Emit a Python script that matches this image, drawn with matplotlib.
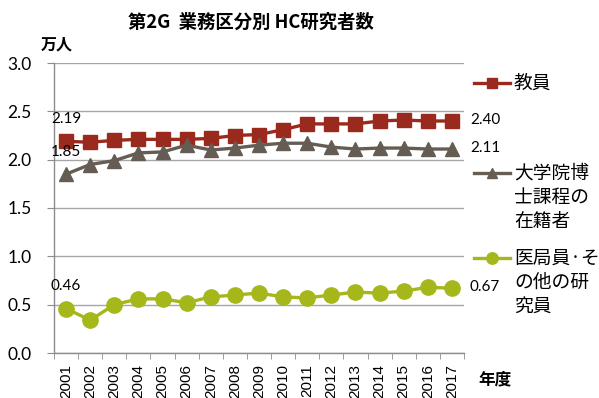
import matplotlib
matplotlib.use("Agg")
import matplotlib.pyplot as plt
from matplotlib.lines import Line2D

# ---- data -------------------------------------------------------------
years = [str(y) for y in range(2001, 2018)]
faculty = [2.19, 2.18, 2.20, 2.21, 2.21, 2.21, 2.22, 2.25, 2.26, 2.31,
           2.37, 2.37, 2.37, 2.40, 2.41, 2.40, 2.40]
doctoral = [1.85, 1.95, 1.99, 2.07, 2.08, 2.15, 2.10, 2.12, 2.15, 2.17,
            2.17, 2.13, 2.11, 2.12, 2.12, 2.11, 2.11]
medical = [0.46, 0.34, 0.50, 0.56, 0.56, 0.52, 0.58, 0.60, 0.62, 0.58,
           0.57, 0.60, 0.63, 0.62, 0.64, 0.68, 0.67]

series_labels = [["教員"],
                 ["大学院博", "士課程の", "在籍者"],
                 ["医局員·そ", "の他の研", "究員"]]
title = "第2G  業務区分別 HC研究者数"
y_unit = "万人"
x_unit = "年度"
y_ticks = [0.0, 0.5, 1.0, 1.5, 2.0, 2.5, 3.0]

# ---- style ------------------------------------------------------------
RED = "#9A2A1E"
GRAY = "#655D53"
GREEN = "#A5B71A"
GRID = "#A6A6A6"
CJK = ["Noto Sans CJK JP", "DejaVu Sans"]
NUM = "Lato"

W, H = 599, 398
fig = plt.figure(figsize=(W / 100, H / 100), dpi=100)


def fx(px):
    return px / W


def fy(py):
    return (H - py) / H


ax = fig.add_axes([fx(54), fy(353), fx(464) - fx(54), fy(63) - fy(353)])

x = list(range(len(years)))
styles = [
    (faculty, RED, "s", 10),
    (doctoral, GRAY, "^", 10),
    (medical, GREEN, "o", 11),
]
for vals, col, mk, ms in styles:
    ax.plot(x, vals, color=col, lw=2.4, marker=mk, ms=ms,
            markeredgecolor=col, markerfacecolor=col, zorder=3,
            clip_on=False)

ax.set_xlim(-0.5, len(years) - 0.5)
ax.set_ylim(0, 3.0)

# grid & spines
ax.set_yticks(y_ticks)
ax.set_yticklabels([f"{v:.1f}" for v in y_ticks], fontfamily=NUM, fontsize=12.5)
ax.yaxis.grid(True, color=GRID, lw=1.0)
ax.set_axisbelow(True)
for side in ("top", "right"):
    ax.spines[side].set_visible(False)
for side in ("left", "bottom"):
    ax.spines[side].set_color("#8C8C8C")
    ax.spines[side].set_linewidth(1.0)
ax.tick_params(axis="y", length=5, color="#8C8C8C", pad=11)

ax.set_xticks(x)
ax.set_xticklabels(years, rotation=90, fontfamily="Liberation Sans",
                   fontsize=11, va="top")
ax.set_xticks([i - 0.5 for i in range(len(years) + 1)], minor=True)
ax.tick_params(axis="x", which="major", length=0, pad=8)
ax.tick_params(axis="x", which="minor", length=4, color="#8C8C8C")

# value labels at first and last year
for vals in (faculty, doctoral, medical):
    ax.annotate(f"{vals[0]:.2f}", (0, vals[0]), xytext=(0, 16),
                textcoords="offset points", ha="center", va="center",
                fontfamily=NUM, fontsize=11, zorder=4)
    ax.annotate(f"{vals[-1]:.2f}", (len(years) - 1, vals[-1]),
                xytext=(13, 1), textcoords="offset points", ha="left",
                va="center", fontfamily=NUM, fontsize=11, zorder=4)

# titles
fig.text(fx(251), fy(22), title, ha="center", va="center",
         fontfamily=CJK, fontweight="bold", fontsize=13.2)
fig.text(fx(57), fy(45), y_unit, ha="center", va="center",
         fontfamily=CJK, fontweight="bold", fontsize=11.5)
fig.text(fx(495), fy(379), x_unit, ha="center", va="center",
         fontfamily=CJK, fontweight="bold", fontsize=12)

# legend drawn in figure space
legend_rows = [83, 173, 258]
line_gap = 24
for (vals, col, mk, ms), lines, ly in zip(styles, series_labels, legend_rows):
    fig.add_artist(Line2D([fx(474), fx(510)], [fy(ly), fy(ly)], color=col,
                          lw=2.4, transform=fig.transFigure))
    fig.add_artist(Line2D([fx(492)], [fy(ly)], color=col, marker=mk,
                          ms=ms * 0.75, markeredgecolor=col,
                          transform=fig.transFigure))
    for k, txt in enumerate(lines):
        fig.text(fx(514), fy(ly + k * line_gap), txt, ha="left",
                 va="center", fontfamily=CJK, fontsize=13.5)

fig.savefig("out.png", dpi=100)
